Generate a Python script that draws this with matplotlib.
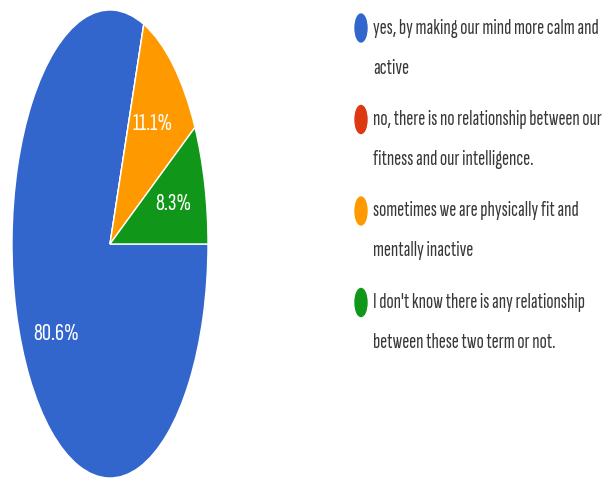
import matplotlib
matplotlib.use('Agg')
import matplotlib.pyplot as plt
from matplotlib.patches import Ellipse

# Survey answers and their share of responses
answers = [
    'yes, by making our mind more calm and\nactive',
    'no, there is no relationship between our\nfitness and our intelligence.',
    'sometimes we are physically fit and\nmentally inactive',
    "I don't know there is any relationship\nbetween these two term or not.",
]
shares = [80.6, 0.0, 11.1, 8.3]
colors = ['#3366cc', '#dc3912', '#ff9900', '#109618']

W, H = 607, 480
fig = plt.figure(figsize=(W / 100, H / 100), dpi=100)
font = ['Sofia Sans Extra Condensed', 'DejaVu Sans']

# pie axes is stretched, so the pie comes out as a tall ellipse
cx, cy, rx, ry = 110, 244, 98, 234
ax = fig.add_axes([(cx - rx) / W, 1 - (cy + ry) / H, 2 * rx / W, 2 * ry / H])
wedges, _, autotexts = ax.pie(
    shares, colors=colors, startangle=0, counterclock=False,
    autopct=lambda p: f'{p:.1f}%' if p > 0 else '', pctdistance=0.67,
    wedgeprops=dict(edgecolor='white', linewidth=1),
    textprops=dict(color='white', fontsize=18, family=font),
)
ax.set_aspect('auto')
ax.set_xlim(-1, 1)
ax.set_ylim(-1, 1)
ax.axis('off')

# legend drawn by hand in pixel coordinates
lg = fig.add_axes([0, 0, 1, 1])
lg.set_xlim(0, W)
lg.set_ylim(H, 0)
lg.axis('off')
for i, (label, c) in enumerate(zip(answers, colors)):
    y = 28 + i * 91.5
    lg.add_patch(Ellipse((361, y), 12, 28, color=c))
    for j, line in enumerate(label.split('\n')):
        lg.text(373, y + j * 40, line, va='center', ha='left', fontsize=15.3,
                color='#383838', family=font)

fig.savefig('out.png', dpi=100)
